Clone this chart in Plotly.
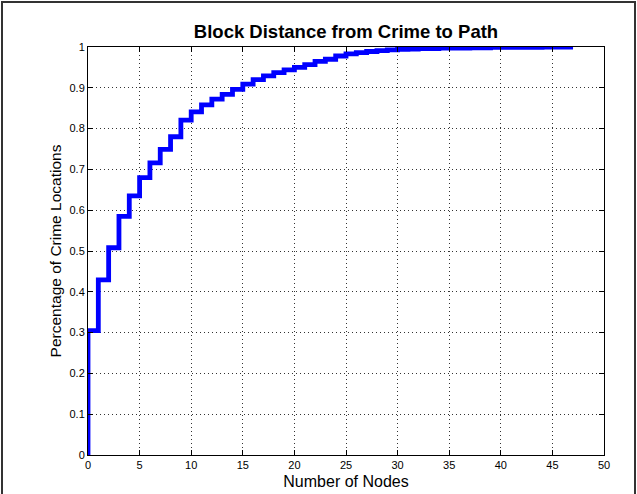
import plotly.graph_objects as go

nodes = list(range(0, 48))
cdf = [0.305, 0.429, 0.508, 0.585, 0.635, 0.680, 0.716, 0.749, 0.780, 0.821,
       0.841, 0.858, 0.872, 0.884, 0.896, 0.909, 0.920, 0.929, 0.937, 0.944,
       0.950, 0.957, 0.965, 0.970, 0.978, 0.983, 0.986, 0.989, 0.991, 0.993,
       0.994, 0.995, 0.996, 0.996, 0.997, 0.997, 0.997, 0.998, 0.998, 0.999,
       0.999, 0.999, 0.999, 0.999, 1.0, 1.0, 1.0, 1.0]

x_ticks = list(range(0, 51, 5))
y_ticks = [i / 10 for i in range(11)]
y_tick_labels = ["0", "0.1", "0.2", "0.3", "0.4", "0.5", "0.6", "0.7", "0.8", "0.9", "1"]

xs = [nodes[0]] + nodes
ys = [0.0] + cdf

W, H = 637, 494
L, R, T, B = 88, 33, 47, 39
pw, ph = W - L - R, H - T - B

FONT = "Liberation Sans, Arial, sans-serif"

fig = go.Figure()
fig.add_trace(go.Scatter(x=xs, y=ys, mode="lines", line=dict(color="#0000FF", width=4.8, shape="hv"),
                         showlegend=False, hoverinfo="skip"))

axis_common = dict(
    showline=True, linecolor="#000000", linewidth=1, mirror="ticks",
    ticks="inside", ticklen=5, tickcolor="#000000", tickwidth=1,
    showgrid=True, gridcolor="rgba(0,0,0,0.8)", gridwidth=1, griddash="1px,3px",
    zeroline=False, automargin=False, tickfont=dict(family=FONT, size=11, color="#000000"),
)

fig.update_xaxes(range=[0, 50], tickvals=x_ticks, ticktext=[str(v) for v in x_ticks],
                 title=dict(text="Number of Nodes", standoff=5,
                            font=dict(family=FONT, size=16, color="#000000")),
                 **axis_common)
fig.update_yaxes(range=[0, 1], tickvals=y_ticks, ticktext=y_tick_labels,
                 title=dict(text="Percentage of Crime Locations", standoff=4,
                            font=dict(family=FONT, size=15.5, color="#000000")),
                 **axis_common)

fig.update_layout(
    width=W, height=H,
    margin=dict(l=L, r=R, t=T, b=B, pad=0),
    paper_bgcolor="#FFFFFF", plot_bgcolor="#FFFFFF",
    title=dict(text="<b>Block Distance from Crime to Path</b>", x=(L + pw / 2) / W, xanchor="center",
               y=1 - 32 / H, yanchor="middle", yref="container",
               font=dict(family=FONT, size=18.5, color="#000000")),
    shapes=[dict(type="rect", xref="paper", yref="paper",
                 x0=(2 - L) / pw, x1=(635 - L) / pw,
                 y0=-(B + 20) / ph, y1=(ph + T - 2) / ph,
                 line=dict(color="#333333", width=2), fillcolor="rgba(0,0,0,0)", layer="above")],
)

fig.write_html("out.html", config={"displayModeBar": False},
               post_script="document.body.style.margin='0';document.body.style.overflow='hidden';")
